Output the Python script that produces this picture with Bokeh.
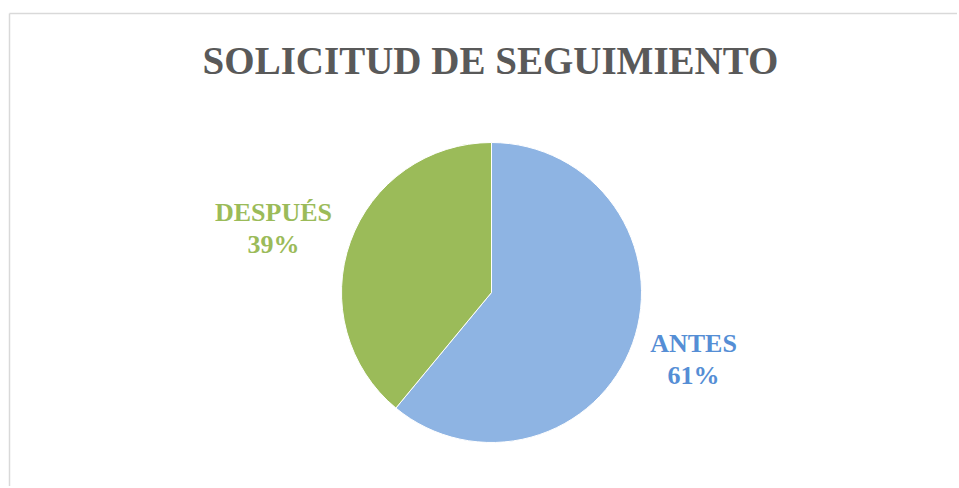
import math
from bokeh.plotting import figure
from bokeh.models import Range1d, ColumnDataSource
from bokeh.core.properties import value
from bokeh.embed import file_html
from bokeh.resources import INLINE

title = "SOLICITUD DE SEGUIMIENTO"
categories = ["ANTES", "DESPUÉS"]
percents = [61, 39]
fill_colors = ["#8EB4E3", "#9BBB59"]
label_colors = ["#558ED5", "#9BBB59"]

W, H = 957, 486
p = figure(width=W, height=H, output_backend="svg", toolbar_location=None,
           x_range=Range1d(0, W), y_range=Range1d(0, H), min_border=0)
p.axis.visible = False
p.grid.visible = False
p.outline_line_color = None
p.background_fill_color = "white"
p.border_fill_color = "white"

oy = H - 480  # shift so page coords match

# chart border (top and left visible)
p.line(x=[9, 9], y=[0, 467 + oy], line_color="#D9D9D9", line_width=1.5)
p.line(x=[9, W + 5], y=[467 + oy, 467 + oy], line_color="#D9D9D9", line_width=1.5)

# pie
cx, cy, r = 491, 188 + oy, 150
total = sum(percents)
starts, ends = [], []
a = math.pi / 2
for v in percents:
    starts.append(a)
    a = a - 2 * math.pi * v / total
    ends.append(a)
src = ColumnDataSource(dict(cat=categories, start=starts, end=ends, color=fill_colors))
p.wedge(x=cx, y=cy, radius=r, radius_units="screen", start_angle="start", end_angle="end",
        direction="clock", fill_color="color", line_color="white", line_width=1, source=src)

# title
p.text(x=[490], y=[420 + oy], text=[title], text_font=value("Liberation Serif"),
       text_font_style="bold", text_font_size="39px", text_color="#595959",
       text_align="center", text_baseline="middle")

# labels
lx = [693, 273]
ly = [137 + oy, 268 + oy]
for i in range(len(categories)):
    p.text(x=[lx[i]], y=[ly[i]], text=[categories[i]], text_font=value("Liberation Serif"),
           text_font_style="bold", text_font_size="26px", text_color=label_colors[i],
           text_align="center", text_baseline="middle")
    p.text(x=[lx[i]], y=[ly[i] - 32], text=[f"{percents[i]}%"], text_font=value("Liberation Serif"),
           text_font_style="bold", text_font_size="26px", text_color=label_colors[i],
           text_align="center", text_baseline="middle")

open("out.html", "w").write(file_html(p, INLINE))
